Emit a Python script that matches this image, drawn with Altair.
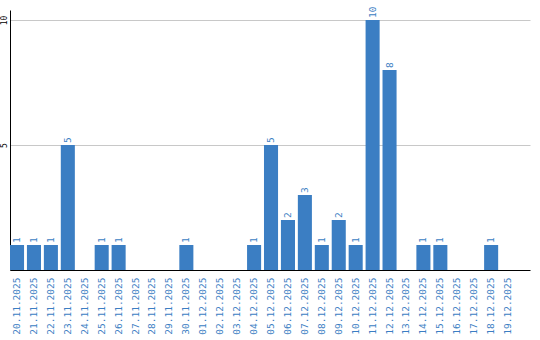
import altair as alt
import pandas as pd

dates = ["20.11.2025", "21.11.2025", "22.11.2025", "23.11.2025", "24.11.2025",
         "25.11.2025", "26.11.2025", "27.11.2025", "28.11.2025", "29.11.2025",
         "30.11.2025", "01.12.2025", "02.12.2025", "03.12.2025", "04.12.2025",
         "05.12.2025", "06.12.2025", "07.12.2025", "08.12.2025", "09.12.2025",
         "10.12.2025", "11.12.2025", "12.12.2025", "13.12.2025", "14.12.2025",
         "15.12.2025", "16.12.2025", "17.12.2025", "18.12.2025", "19.12.2025"]
counts = [1, 1, 1, 5, 0, 1, 1, 0, 0, 0,
          1, 0, 0, 0, 1, 5, 2, 3, 1, 2,
          1, 10, 8, 0, 1, 1, 0, 0, 1, 0]
y_ticks = [5, 10]

df = pd.DataFrame({"date": dates, "count": counts})

blue = "#3b7ec3"
font = "DejaVu Sans Mono"

x_enc = alt.X(
    "date:N", sort=dates, title=None,
    scale=alt.Scale(domain=dates, paddingInner=0.17, paddingOuter=0.44, align=0),
    axis=alt.Axis(labelAngle=270, labelAlign="right", labelBaseline="middle",
                  labelFont=font, labelFontSize=9.5, labelColor=blue,
                  labelPadding=7, ticks=False, domainColor="black",
                  domainWidth=1, grid=False, labelOverlap=False),
)
y_enc = alt.Y(
    "count:Q", title=None,
    scale=alt.Scale(domain=[0, 10.4], nice=False),
    axis=alt.Axis(values=y_ticks, labelAngle=270, labelAlign="center",
                  labelBaseline="bottom", labelFont=font, labelFontSize=8,
                  labelColor="black", labelPadding=2, ticks=False,
                  domainColor="black", domainWidth=1, grid=True,
                  gridColor="#c8c8c8", gridWidth=1),
)

base = alt.Chart(df)

bars = base.mark_bar(color=blue).encode(x=x_enc, y=y_enc)
labels = base.transform_filter(alt.datum.count > 0).mark_text(
    angle=270, align="left", baseline="middle", dx=2,
    font=font, fontSize=9.5, color=blue).encode(
    x=alt.X("date:N", sort=dates), y=alt.Y("count:Q"), text="count:Q")

chart = (bars + labels).properties(
    width=520, height=260,
    autosize=alt.AutoSizeParams(type="none"),
    padding={"left": 10, "top": 10, "right": 10, "bottom": 70},
    view=alt.ViewBackground(strokeWidth=0, strokeOpacity=0),
).configure_view(strokeWidth=0, strokeOpacity=0).configure(background="white")

chart.save("out.html", embed_options={"renderer": "svg", "actions": False})
